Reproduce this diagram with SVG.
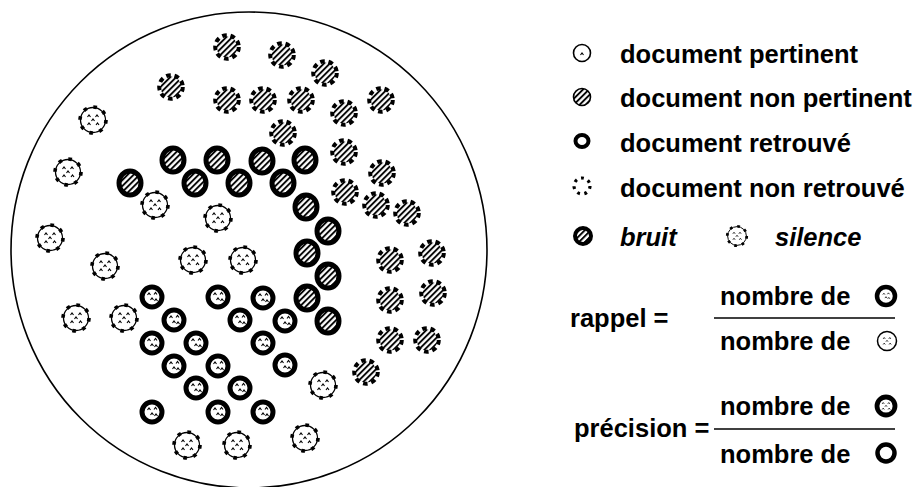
<svg xmlns="http://www.w3.org/2000/svg" xmlns:xlink="http://www.w3.org/1999/xlink" width="922" height="487" viewBox="0 0 922 487">
<style>
text{font-family:"Liberation Sans",Arial,sans-serif;font-weight:bold;font-size:25.5px;fill:#000}
.it{font-style:italic}
.car{fill:none;stroke:#000;stroke-width:1.1}
.rule{stroke:#000;stroke-width:1.6}
</style>
<defs>
<pattern id="h" width="4.2" height="4.2" patternUnits="userSpaceOnUse" patternTransform="rotate(45)">
<rect width="4.2" height="4.2" fill="#fff"/><rect width="1.9" height="4.2" fill="#000"/>
</pattern>
<g id="car">
<path class="car" d="M-5.5,-3 l1.5,-2 l1.5,2 M2.5,-3 l1.5,-2 l1.5,2 M-1.5,1 l1.5,-2 l1.5,2 M-5.5,5 l1.5,-2 l1.5,2 M3,5 l1.5,-2 l1.5,2"/>
</g>
<g id="car2">
<path class="car" d="M-4.5,-2 l1.5,-2 l1.5,2 M2,-2.5 l1.5,-2 l1.5,2 M-1.5,3 l1.5,-2 l1.5,2 M2.5,4 l1.5,-2 l1.5,2"/>
</g>
<g id="np">
<circle r="10.5" fill="url(#h)"/>
<circle r="11.8" fill="none" stroke="#000" stroke-width="4" stroke-dasharray="4.6 3.8"/>
</g>
<g id="sil">
<circle r="12.5" fill="#fff" stroke="#000" stroke-width="1.3"/>
<circle r="13" fill="none" stroke="#000" stroke-width="3.6" stroke-dasharray="3.6 6.6"/>
<use href="#car"/>
</g>
<g id="rp">
<circle r="10" fill="#fff" stroke="#000" stroke-width="5"/>
<use href="#car2"/>
</g>
<g id="br">
<ellipse rx="11" ry="12" fill="url(#h)" stroke="#000" stroke-width="5"/>
</g>
</defs>
<rect width="922" height="487" fill="#fff"/>
<circle id="univers" cx="249" cy="250" r="238" fill="none" stroke="#000" stroke-width="1.6"/>

<g id="nonpertinents-non-retrouves">
<g id="np1" transform="translate(227,47)"><use href="#np"/></g>
<g id="np2" transform="translate(282,55)"><use href="#np"/></g>
<g id="np3" transform="translate(325,73)"><use href="#np"/></g>
<g id="np4" transform="translate(171,87)"><use href="#np"/></g>
<g id="np5" transform="translate(227,100)"><use href="#np"/></g>
<g id="np6" transform="translate(263,100)"><use href="#np"/></g>
<g id="np7" transform="translate(301,100)"><use href="#np"/></g>
<g id="np8" transform="translate(344,113)"><use href="#np"/></g>
<g id="np9" transform="translate(381,100)"><use href="#np"/></g>
<g id="np10" transform="translate(283,133)"><use href="#np"/></g>
<g id="np11" transform="translate(344,152)"><use href="#np"/></g>
<g id="np12" transform="translate(382,173)"><use href="#np"/></g>
<g id="np13" transform="translate(345,192)"><use href="#np"/></g>
<g id="np14" transform="translate(376,205)"><use href="#np"/></g>
<g id="np15" transform="translate(407,213)"><use href="#np"/></g>
<g id="np16" transform="translate(390,260)"><use href="#np"/></g>
<g id="np17" transform="translate(432,253)"><use href="#np"/></g>
<g id="np18" transform="translate(390,300)"><use href="#np"/></g>
<g id="np19" transform="translate(433,293)"><use href="#np"/></g>
<g id="np20" transform="translate(390,340)"><use href="#np"/></g>
<g id="np21" transform="translate(427,340)"><use href="#np"/></g>
<g id="np22" transform="translate(366,372)"><use href="#np"/></g>
</g>

<g id="silence">
<g id="s1" transform="translate(93,120)"><use href="#sil"/></g>
<g id="s2" transform="translate(68,172)"><use href="#sil"/></g>
<g id="s3" transform="translate(155,205)"><use href="#sil"/></g>
<g id="s4" transform="translate(218,218)"><use href="#sil"/></g>
<g id="s5" transform="translate(50,238)"><use href="#sil"/></g>
<g id="s6" transform="translate(105,266)"><use href="#sil"/></g>
<g id="s7" transform="translate(193,260)"><use href="#sil"/></g>
<g id="s8" transform="translate(243,260)"><use href="#sil"/></g>
<g id="s9" transform="translate(76,318)"><use href="#sil"/></g>
<g id="s10" transform="translate(124,318)"><use href="#sil"/></g>
<g id="s11" transform="translate(187,445)"><use href="#sil"/></g>
<g id="s12" transform="translate(237,445)"><use href="#sil"/></g>
<g id="s13" transform="translate(323,385)"><use href="#sil"/></g>
<g id="s14" transform="translate(305,438)"><use href="#sil"/></g>
</g>

<g id="bruit">
<g id="b1" transform="translate(173,160)"><use href="#br"/></g>
<g id="b2" transform="translate(217,160)"><use href="#br"/></g>
<g id="b3" transform="translate(262,161)"><use href="#br"/></g>
<g id="b4" transform="translate(305,160)"><use href="#br"/></g>
<g id="b5" transform="translate(130,183)"><use href="#br"/></g>
<g id="b6" transform="translate(195,183)"><use href="#br"/></g>
<g id="b7" transform="translate(239,183)"><use href="#br"/></g>
<g id="b8" transform="translate(283,183)"><use href="#br"/></g>
<g id="b9" transform="translate(306,207)"><use href="#br"/></g>
<g id="b10" transform="translate(328,231)"><use href="#br"/></g>
<g id="b11" transform="translate(307,253)"><use href="#br"/></g>
<g id="b12" transform="translate(328,276)"><use href="#br"/></g>
<g id="b13" transform="translate(307,298)"><use href="#br"/></g>
<g id="b14" transform="translate(328,321)"><use href="#br"/></g>
</g>

<g id="pertinents-retrouves">
<g id="p1" transform="translate(152,297)"><use href="#rp"/></g>
<g id="p2" transform="translate(218,297)"><use href="#rp"/></g>
<g id="p3" transform="translate(263,298)"><use href="#rp"/></g>
<g id="p4" transform="translate(174,320)"><use href="#rp"/></g>
<g id="p5" transform="translate(240,320)"><use href="#rp"/></g>
<g id="p6" transform="translate(285,321)"><use href="#rp"/></g>
<g id="p7" transform="translate(152,343)"><use href="#rp"/></g>
<g id="p8" transform="translate(196,343)"><use href="#rp"/></g>
<g id="p9" transform="translate(263,343)"><use href="#rp"/></g>
<g id="p10" transform="translate(174,366)"><use href="#rp"/></g>
<g id="p11" transform="translate(218,366)"><use href="#rp"/></g>
<g id="p12" transform="translate(285,365)"><use href="#rp"/></g>
<g id="p13" transform="translate(196,388)"><use href="#rp"/></g>
<g id="p14" transform="translate(240,388)"><use href="#rp"/></g>
<g id="p15" transform="translate(152,412)"><use href="#rp"/></g>
<g id="p16" transform="translate(218,412)"><use href="#rp"/></g>
<g id="p17" transform="translate(263,412)"><use href="#rp"/></g>
</g>

<g id="legende">
<g id="leg-pertinent">
<circle cx="582" cy="53" r="8.5" fill="#fff" stroke="#000" stroke-width="1.6"/>
<path class="car" d="M580.5,55 l1.5,-2 l1.5,2"/>
<text x="620" y="63">document pertinent</text>
</g>
<g id="leg-nonpertinent">
<circle cx="582" cy="97" r="8.5" fill="url(#h)" stroke="#000" stroke-width="1.6"/>
<text x="620" y="107">document non pertinent</text>
</g>
<g id="leg-retrouve">
<ellipse cx="582" cy="141" rx="6.5" ry="6" fill="#fff" stroke="#000" stroke-width="4"/>
<text x="620" y="152">document retrouvé</text>
</g>
<g id="leg-nonretrouve">
<circle cx="582" cy="186" r="8" fill="none" stroke="#000" stroke-width="3.2" stroke-dasharray="2.8 4.5"/>
<text x="620" y="197">document non retrouvé</text>
</g>
<g id="leg-bruit">
<circle cx="583" cy="236" r="8" fill="url(#h)" stroke="#000" stroke-width="4"/>
<text class="it" x="620" y="246">bruit</text>
</g>
<g id="leg-silence">
<g transform="translate(737,236) scale(0.75)"><use href="#sil"/></g>
<text class="it" x="775" y="246">silence</text>
</g>
<g id="rappel">
<text x="570" y="327">rappel =</text>
<text x="720" y="305">nombre de</text>
<line class="rule" x1="714" y1="318" x2="895" y2="318"/>
<text x="720" y="350">nombre de</text>
<g transform="translate(886,296)"><circle r="9" fill="#fff" stroke="#000" stroke-width="4.5"/><g transform="scale(0.7)"><use href="#car2"/></g></g>
<g transform="translate(887,341)"><circle r="9.5" fill="#fff" stroke="#000" stroke-width="1.5"/><g transform="scale(0.7)"><use href="#car"/></g></g>
</g>
<g id="precision">
<text x="574" y="437">précision =</text>
<text x="720" y="415">nombre de</text>
<line class="rule" x1="714" y1="429" x2="895" y2="429"/>
<text x="720" y="463">nombre de</text>
<g transform="translate(886,406)"><circle r="9" fill="#fff" stroke="#000" stroke-width="4.8"/><g transform="scale(0.7)"><use href="#car"/></g></g>
<g transform="translate(886,453)"><circle r="8.5" fill="#fff" stroke="#000" stroke-width="4.5"/></g>
</g>
</g>
</svg>
